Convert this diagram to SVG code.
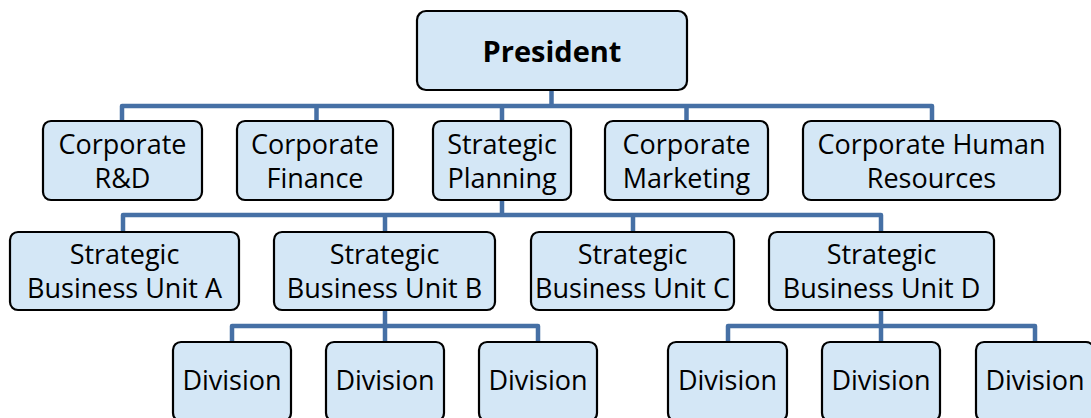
<svg xmlns="http://www.w3.org/2000/svg" width="1091" height="418" viewBox="0 0 1091 418">
<style>
.box{fill:#d4e7f6;stroke:#000;stroke-width:2.2}
.t{font-family:"Open Sans","Noto Sans","DejaVu Sans",sans-serif;font-size:27px;fill:#000;text-anchor:middle}
.b{font-weight:bold;font-size:29px}
.c{fill:none;stroke:#4670a5;stroke-width:4.5;stroke-linejoin:round}
</style>
<rect width="1091" height="418" fill="#fff"/>
<g id="connectors">
<path class="c" d="M551.5 90V106M122 121V106H932V121M316.5 106V121M502 106V121M686.5 106V121"/>
<path class="c" d="M502 200V215M123 232V215H881V232M385 215V232M633 215V232"/>
<path class="c" d="M385 310V326M232 342V326H538V342M385 326V342"/>
<path class="c" d="M881 310V326M728 342V326H1035V342M881 326V342"/>
</g>
<g id="president"><rect class="box" x="417" y="11" width="270" height="79" rx="9"/><text class="t b" x="552" y="62">President</text></g>
<g id="rnd"><rect class="box" x="43" y="121" width="159" height="79" rx="8"/><text class="t" x="122.5" y="154">Corporate</text><text class="t" x="122.5" y="188">R&amp;D</text></g>
<g id="finance"><rect class="box" x="237" y="121" width="156" height="79" rx="8"/><text class="t" x="315" y="154">Corporate</text><text class="t" x="315" y="188">Finance</text></g>
<g id="planning"><rect class="box" x="433" y="121" width="138" height="79" rx="8"/><text class="t" x="502" y="154">Strategic</text><text class="t" x="502" y="188">Planning</text></g>
<g id="marketing"><rect class="box" x="605" y="121" width="163" height="79" rx="8"/><text class="t" x="686.5" y="154">Corporate</text><text class="t" x="686.5" y="188">Marketing</text></g>
<g id="hr"><rect class="box" x="803" y="121" width="257" height="79" rx="8"/><text class="t" x="931.5" y="154">Corporate Human</text><text class="t" x="931.5" y="188">Resources</text></g>
<g id="sbuA"><rect class="box" x="10" y="232" width="229" height="78" rx="8"/><text class="t" x="124.5" y="264">Strategic</text><text class="t" x="124.5" y="298">Business Unit A</text></g>
<g id="sbuB"><rect class="box" x="274" y="232" width="221" height="78" rx="8"/><text class="t" x="384.5" y="264">Strategic</text><text class="t" x="384.5" y="298">Business Unit B</text></g>
<g id="sbuC"><rect class="box" x="531" y="232" width="203" height="78" rx="8"/><text class="t" x="632.5" y="264">Strategic</text><text class="t" x="632.5" y="298">Business Unit C</text></g>
<g id="sbuD"><rect class="box" x="769" y="232" width="225" height="78" rx="8"/><text class="t" x="881.5" y="264">Strategic</text><text class="t" x="881.5" y="298">Business Unit D</text></g>
<g id="div1"><rect class="box" x="173" y="342" width="118" height="79" rx="8"/><text class="t" x="232" y="390">Division</text></g>
<g id="div2"><rect class="box" x="326" y="342" width="118" height="79" rx="8"/><text class="t" x="385" y="390">Division</text></g>
<g id="div3"><rect class="box" x="479" y="342" width="118" height="79" rx="8"/><text class="t" x="538" y="390">Division</text></g>
<g id="div4"><rect class="box" x="668" y="342" width="119" height="79" rx="8"/><text class="t" x="727.5" y="390">Division</text></g>
<g id="div5"><rect class="box" x="822" y="342" width="118" height="79" rx="8"/><text class="t" x="881" y="390">Division</text></g>
<g id="div6"><rect class="box" x="976" y="342" width="118" height="79" rx="8"/><text class="t" x="1035" y="390">Division</text></g>
</svg>
